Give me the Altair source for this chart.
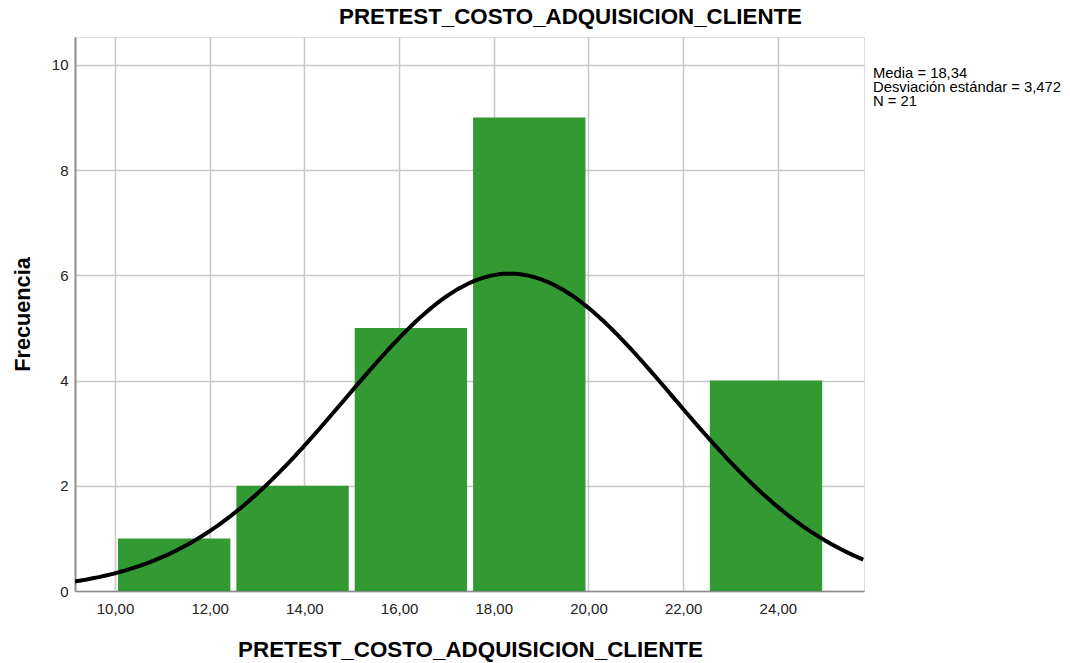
import altair as alt
import pandas as pd

# Histogram bins (lower edge, upper edge) and frequencies
bin_start = [10.0, 12.5, 15.0, 17.5, 20.0, 22.5]
bin_end = [12.5, 15.0, 17.5, 20.0, 22.5, 25.0]
counts = [1, 2, 5, 9, 0, 4]

# Summary statistics shown in the chart
media = 18.34
desv = 3.472
n_obs = 21
bin_width = 2.5

x_ticks = [10, 12, 14, 16, 18, 20, 22, 24]
y_ticks = [0, 2, 4, 6, 8, 10]
stats_lines = ["Media = 18,34", "Desviación estándar = 3,472", "N = 21"]

title_text = "PRETEST_COSTO_ADQUISICION_CLIENTE"
x_title = "PRETEST_COSTO_ADQUISICION_CLIENTE"
y_title = "Frecuencia"

X_DOM = [9.155, 25.82]
Y_DOM = [0, 10.53]
W, H = 789, 554

bars = pd.DataFrame({"start": bin_start, "end": bin_end, "count": counts})
bars = bars[bars["count"] > 0]

xscale = alt.Scale(domain=X_DOM, nice=False, zero=False)
yscale = alt.Scale(domain=Y_DOM, nice=False)

xaxis = alt.Axis(
    values=x_ticks, title=x_title, grid=True, gridColor="#c8c8c8", gridWidth=1.5,
    ticks=False, domainColor="#8c8c8c", domainWidth=1.5,
    labelExpr="replace(format(datum.value, '.2f'), '.', ',')",
    labelFont="Liberation Sans", labelFontSize=15, labelColor="#222222", labelPadding=10,
    titleFont="Liberation Sans", titleFontSize=22.4, titleFontWeight="bold", titleColor="#000000",
    titleX=395, titleY=58, titleAlign="center", titleBaseline="middle",
)
yaxis = alt.Axis(
    values=y_ticks, title=y_title, grid=True, gridColor="#c8c8c8", gridWidth=1.5,
    ticks=False, domainColor="#8c8c8c", domainWidth=2,
    labelFont="Liberation Sans", labelFontSize=15, labelColor="#222222", labelPadding=7,
    titleFont="Liberation Sans", titleFontSize=21.7, titleFontWeight="bold", titleColor="#000000",
    titleX=-53, titleY=277, titleAngle=270, titleAlign="center", titleBaseline="middle",
)

hist = alt.Chart(bars).mark_rect(color="#339933", xOffset=3, x2Offset=-3).encode(
    x=alt.X("start:Q", scale=xscale, axis=xaxis),
    x2="end:Q",
    y=alt.Y("count:Q", scale=yscale, axis=yaxis),
    y2=alt.datum(0),
)

curve = (
    alt.Chart(alt.sequence(start=X_DOM[0], stop=X_DOM[1] + 0.01, step=0.05, as_="v"))
    .transform_calculate(
        dens=f"{n_obs}*{bin_width}*exp(-0.5*pow((datum.v-{media})/{desv},2))/({desv}*sqrt(2*PI))"
    )
    .mark_line(color="#000000", strokeWidth=4, clip=True)
    .encode(x=alt.X("v:Q", scale=xscale, axis=xaxis), y=alt.Y("dens:Q", scale=yscale, axis=yaxis))
)

stats = alt.Chart(pd.DataFrame({"k": [0]})).mark_text(
    align="left", baseline="top", font="Liberation Sans", fontSize=14.8, lineHeight=14,
    color="#000000",
).encode(
    text=alt.value(stats_lines),
    x=alt.value(798),
    y=alt.value(29),
)

chart = (
    alt.layer(hist, curve, stats)
    .properties(
        width=W, height=H,
        title=alt.TitleParams(
            title_text, anchor="middle", dx=101, font="Liberation Sans", fontSize=22.3,
            fontWeight="bold", color="#000000", offset=9,
        ),
        autosize=alt.AutoSizeParams(type="none"),
        padding={"left": 75, "top": 37, "right": 206, "bottom": 72},
    )
    .configure_view(stroke=None)
    .configure(background="#ffffff")
)

chart.save("out.html", embed_options={"renderer": "svg", "actions": False})
